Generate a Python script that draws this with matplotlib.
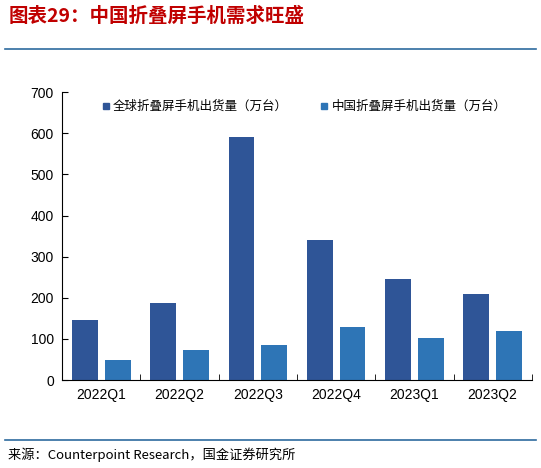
import matplotlib
matplotlib.use("Agg")
import matplotlib.pyplot as plt
import numpy as np
from matplotlib.lines import Line2D

plt.rcParams['font.family'] = ['Noto Sans CJK SC', 'DejaVu Sans']

categories = ["2022Q1", "2022Q2", "2022Q3", "2022Q4", "2023Q1", "2023Q2"]
global_ship = [147, 187, 590, 340, 245, 208]
china_ship = [48, 73, 85, 128, 103, 120]
s1 = "全球折叠屏手机出货量（万台）"
s2 = "中国折叠屏手机出货量（万台）"
c1, c2 = "#2F5597", "#2E75B6"

fig = plt.figure(figsize=(5.41, 4.68), dpi=100)
ax = fig.add_axes([0.115, 0.188, 0.868, 0.615])
x = np.arange(len(categories))
w = 0.33
ax.bar(x - 0.21, global_ship, w, color=c1)
ax.bar(x + 0.21, china_ship, w, color=c2)
ax.set_xlim(-0.5, len(categories) - 0.5)
ax.set_ylim(0, 700)
ax.set_yticks(range(0, 701, 100))
ax.set_xticks(x)
ax.set_xticklabels(categories, family=['Liberation Sans', 'DejaVu Sans'], fontsize=10)
for t in ax.get_yticklabels():
    t.set_family(['Liberation Sans', 'DejaVu Sans'])
ax.tick_params(axis='y', labelsize=10, length=4, direction='in', pad=6)
ax.set_xticks(np.arange(len(categories) + 1) - 0.5, minor=True)
ax.tick_params(axis='x', which='major', length=0, pad=6)
ax.tick_params(axis='x', which='minor', length=4, direction='in')
for s in ['top', 'right']:
    ax.spines[s].set_visible(False)

h1 = Line2D([], [], marker='s', color=c1, linestyle='none', markersize=5)
h2 = Line2D([], [], marker='s', color=c2, linestyle='none', markersize=5)
fig.legend([h1, h2], [s1, s2], ncol=2, frameon=False, loc='upper left',
           bbox_to_anchor=(0.165, 0.81), fontsize=9, handletextpad=0.2,
           columnspacing=2.5, handlelength=0.8)

fig.text(0.015, 0.965, "图表29：中国折叠屏手机需求旺盛", fontsize=14, fontweight='bold',
         style='italic', color='#C00000', va='center')
fig.add_artist(Line2D([0.01, 0.99], [0.895, 0.895], color='#2E6B9E', lw=1.2))
fig.add_artist(Line2D([0.01, 0.99], [0.06, 0.06], color='#2E6B9E', lw=1.2))
fig.text(0.015, 0.028, "来源：Counterpoint Research，国金证券研究所", fontsize=9.5, va='center')
fig.savefig("out.png", dpi=100)
